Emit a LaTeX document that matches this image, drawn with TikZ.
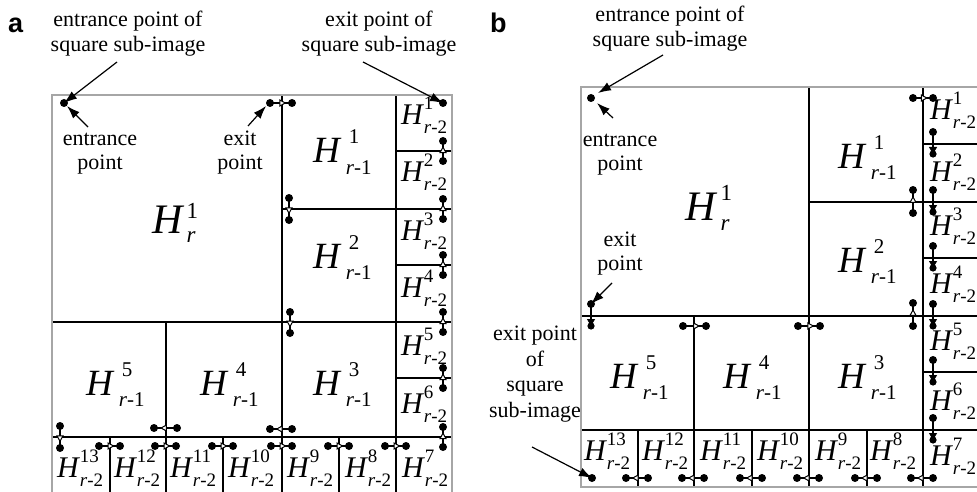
\documentclass[tikz,border=0pt]{standalone}
\usepackage{fontspec}
\setmainfont{Liberation Serif}
\newfontfamily\labsans{Liberation Sans}
\usetikzlibrary{arrows.meta,calc}
% H label: #1 H size, #2 script size, #3 sup, #4 sub, #5 gap, #6 raise, #7 drop, #8 sup shift
\newcommand\HL[8]{{\fontsize{#1pt}{#1pt}\selectfont\itshape H}\kern#5pt{\fontsize{#2pt}{#2pt}\selectfont\rlap{\kern#8pt\raisebox{#6pt}{#3}}\raisebox{-#7pt}{#4}}}
\newcommand\HA[1]{\HL{37}{21}{#1}{\textit{r}-1}{6}{19}{11}{3}}
\newcommand\HB[1]{\HL{30}{19}{#1}{\textit{r}-2}{1}{15}{9}{0}}
\newcommand\mko[2]{\draw[mkl] (#1) -- (#2);
  \draw[mkl,-{Triangle[length=7pt,width=7.5pt,fill=white,line width=1pt]}] (#1) -- ($(#1)!0.74!(#2)$);
  \fill (#1) circle (4pt); \fill (#2) circle (4pt);}
\newcommand\mkf[2]{\draw[mkl,-{Triangle[length=7pt,width=8pt]}] (#1) -- (#2);
  \fill (#1) circle (4pt); \fill (#2) circle (3.6pt);}
\begin{document}
\begin{tikzpicture}[x=1pt,y=-1pt,
  grid/.style={line width=1.3pt,black},
  outer/.style={line width=2.6pt,gray!70},
  mkl/.style={line width=1.1pt},
  ann/.style={line width=1.2pt,-{Latex[length=13pt,width=9pt]}},
  txt/.style={inner sep=0pt,align=center,font=\fontsize{22pt}{25pt}\selectfont},
  lab/.style={inner sep=0pt,anchor=base west}]
\useasboundingbox (0,0) rectangle (977,492);
\clip (0,0) rectangle (977,492);
\fill[white] (0,0) rectangle (977,492);

% ---------- panel a ----------
\node[lab] (la) at (8,33) {\labsans\bfseries\fontsize{27pt}{27pt}\selectfont a};
\draw[grid] (282,95) -- (282,500) (396,95) -- (396,500)
  (52,322) -- (452,322) (52,437) -- (452,437)
  (282,209) -- (452,209) (396,151) -- (452,151) (396,265) -- (452,265) (396,378) -- (452,378)
  (166,322) -- (166,500) (110,437) -- (110,500) (223,437) -- (223,500) (339,437) -- (339,500);
\draw[outer] (52,95) rectangle (452,500);

\node[lab] (ar) at (152,233) {\HL{42}{23}{1}{\textit{r}}{4}{15}{9}{0}};
\node[lab] (a11) at (313,163) {\HA{1}};
\node[lab] (a12) at (313,268) {\HA{2}};
\node[lab] (a13) at (313,395) {\HA{3}};
\node[lab] (a14) at (200,395) {\HA{4}};
\node[lab] (a15) at (86,395) {\HA{5}};
\foreach \n/\yy in {1/125,2/182,3/240,4/297,5/355,6/413}
  \node[lab] (a2c\n) at (401,\yy) {\HB{\n}};
\foreach \n/\xx in {13/57,12/114,11/170,10/228,9/287,8/345,7/402}
  \node[lab] (a2b\n) at (\xx,477) {\HB{\n}};

\coordinate (aen) at (64,103);
\coordinate (aex) at (270,103);
\coordinate (afx) at (443,103);
\fill (aen) circle (4pt);
\mko{270,103}{292,103}
\mko{289,198}{289,220}
\mko{290,312}{290,333}
\mko{292,429}{270,429}
\mko{177,428}{154,428}
\mko{60,426}{60,448}
\foreach \b in {110,166,223,282,339,396} {\mko{{\b-11},446}{{\b+10},446}}
\foreach \b in {437,378,322,265,209,151} {\mko{443,{\b+10}}{443,{\b-10}}}
\fill (afx) circle (4pt);

\node[txt] (t1) at (128,34.5) {entrance point of\strut\\square sub-image\strut};
\node[txt] (t2) at (379,34.5) {exit point of\strut\\square sub-image\strut};
\node[txt,font=\fontsize{22pt}{24pt}\selectfont] (t3) at (100,153) {entrance\strut\\point\strut};
\node[txt,font=\fontsize{22pt}{24pt}\selectfont] (t4) at (240,153) {exit\strut\\point\strut};
\draw[ann] (117,62) -- (aen);
\draw[ann] (88,127) -- (67,106);
\draw[ann] (248,126) -- (266,106);
\draw[ann] (363,62) -- (afx);

% ---------- panel b ----------
\node[lab] (lb) at (490,33) {\labsans\bfseries\fontsize{27pt}{27pt}\selectfont b};
\draw[grid] (809,87) -- (809,487) (923,87) -- (923,487)
  (581,316) -- (990,316) (581,430) -- (990,430)
  (809,202) -- (990,202) (923,144) -- (990,144) (923,258) -- (990,258) (923,372) -- (990,372)
  (694,316) -- (694,487) (638,430) -- (638,487) (752,430) -- (752,487) (867,430) -- (867,487);
\draw[outer] (581,87) rectangle (990,487);

\node[lab] (br) at (685,220) {\HL{42}{23}{1}{\textit{r}}{5}{20}{10}{0}};
\node[lab] (b11) at (838,168) {\HA{1}};
\node[lab] (b12) at (838,272) {\HA{2}};
\node[lab] (b13) at (838,388) {\HA{3}};
\node[lab] (b14) at (723,388) {\HA{4}};
\node[lab] (b15) at (610,388) {\HA{5}};
\foreach \n/\yy in {1/120,2/182,3/235,4/293,5/350,6/410,7/465}
  \node[lab] (b2c\n) at (930,\yy) {\HB{\n}};
\foreach \n/\xx in {13/584,12/642,11/700,10/757,9/815,8/870}
  \node[lab] (b2b\n) at (\xx,460) {\HB{\n}};

\coordinate (ben) at (591,98);
\coordinate (bex) at (591,304);
\coordinate (bfx) at (592,478);
\fill (ben) circle (4pt);
\mkf{591,304}{591,326}
\mko{683,326}{706,326}
\mko{798,326}{820,326}
\mko{913,326}{913,303}
\mko{913,213}{913,190}
\mko{913,98}{933,98}
\foreach \b in {144,202,258,316,372,430} {\mkf{933,{\b-12}}{933,{\b+10}}}
\foreach \b in {923,867,809,752,694,638} {\mko{{\b+10},478}{{\b-12},478}}
\fill (bfx) circle (4pt);

\node[txt] (t5) at (670,29.5) {entrance point of\strut\\square sub-image\strut};
\node[txt,font=\fontsize{22pt}{24pt}\selectfont] (t6) at (620,154) {entrance\strut\\point\strut};
\node[txt,font=\fontsize{22pt}{24pt}\selectfont] (t7) at (620,254) {exit\strut\\point\strut};
\node[txt,font=\fontsize{22pt}{25.5pt}\selectfont] (t8) at (535,374) {exit point\strut\\of\strut\\square\strut\\sub-image\strut};
\draw[ann] (663,55) -- (598,93);
\draw[ann] (613,118) -- (597,103);
\draw[ann] (612,283) -- (bex);
\draw[ann] (532,447) -- (bfx);
\end{tikzpicture}
\end{document}
